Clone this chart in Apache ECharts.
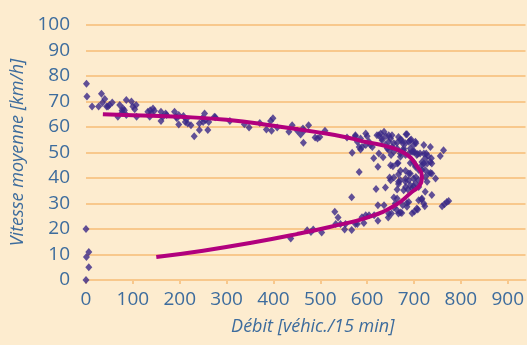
<!DOCTYPE html>
<html>
<head>
<meta charset="utf-8">
<script src="https://cdn.jsdelivr.net/npm/echarts@6/dist/echarts.min.js"></script>
<style>
  html, body { margin: 0; padding: 0; background: #fdeccf; }
  #chart { width: 527px; height: 345px; }
</style>
</head>
<body>
<div id="chart"></div>
<script>
// ticks
const xTicks = [0, 100, 200, 300, 400, 500, 600, 700, 800, 900];

// mesures [débit, vitesse]
const pointsLeft = [
  [0, 0], [6, 5], [1, 9], [6, 11], [0, 20], [1, 77], [2, 72],
  [13, 68], [27, 68], [33, 73], [35, 69.5], [40, 71], [44, 68], [47, 68], [50, 68.6], [56, 69.6],
  [68, 64], [72, 68.6], [77, 66.5], [79, 67.3], [82, 66.6], [77, 65.6], [86, 70.6], [86, 64.7],
  [97, 70], [100, 68], [104, 67], [107, 68.6], [108, 64], [132, 66], [137, 66.6], [143, 67.3],
  [146, 66.4], [139, 65.3], [136, 64], [160, 66], [164, 64], [170, 65.3], [172, 64.7], [160, 62.4],
  [189, 66], [192, 64], [198, 64.7], [194, 63.4], [198, 61], [208, 64.3], [212, 62], [217, 61.4],
  [214, 63], [224, 60.7], [231, 56.4], [242, 61.4], [250, 62], [253, 65.3], [248, 63.4], [242, 58.8],
  [260, 58.8], [262, 62], [255, 62.7], [274, 64]
];
const pointsMid = [
  [276, 63.8], [307, 62.4], [338, 61.1], [348, 59.8], [371, 61.6], [385, 59], [394, 62.4], [399, 63.4],
  [396, 58.5], [408, 59.8], [433, 58.1], [440, 60.7], [451, 58.5], [458, 57.1], [463, 59.4], [465, 58.5],
  [475, 60.7], [464, 53.8], [489, 55.9], [494, 55.5], [499, 56.1], [510, 58.5], [557, 55.9], [575, 56.4],
  [579, 54.2], [568, 49.9], [583, 42.4], [567, 32.5]
];
const pointsLow = [
  [437, 16.3], [472, 19.5], [480, 18.8], [485, 19.8], [503, 18.6], [531, 26.8], [538, 24.5], [533, 22],
  [543, 22], [554, 22], [552, 19.8], [567, 19.6], [575, 22], [579, 22], [589, 24.6], [593, 22.4],
  [597, 25.4], [604, 25.4], [615, 25.4], [623, 23.2], [623, 29.3], [636, 29.3], [645, 24.5], [646, 26.1],
  [652, 26.1], [657, 28.5], [660, 30], [664, 27.4], [667, 26.1], [671, 26.5], [674, 26.3], [676, 29.3],
  [685, 28.7], [685, 30.2], [689, 30.6], [696, 26.2], [701, 26.9], [706, 28], [708, 27.6], [710, 31.3],
  [716, 31.6], [721, 30], [723, 28.9], [760, 28.9], [765, 29.7], [770, 30.6], [774, 31], [738, 33.3],
  [724, 34.6], [717, 32], [619, 35.7], [639, 36.3], [657, 32.4], [664, 32]
];
const pointsRight = [
  [650, 39.1], [657, 40.2], [648, 40.2], [664, 35.5], [667, 37.6], [671, 39.1], [678, 35.2], [682, 38.5],
  [687, 35.5], [692, 37.2], [696, 35.9], [667, 41.5], [671, 42.8], [682, 42.8], [689, 41.8], [699, 39.8],
  [704, 40.4], [710, 39.1], [699, 36.8], [724, 43.1], [735, 42], [746, 39.8], [655, 44.6], [666, 45.9],
  [692, 45.9], [699, 46.3], [703, 45], [721, 45.7], [724, 47.7], [730, 48.6], [721, 49.6], [756, 48.6],
  [763, 50.9], [623, 44.4], [614, 47.7], [625, 49.6], [634, 48.1], [643, 51.6], [651, 49], [657, 50.3],
  [664, 51.6], [671, 49.6], [678, 50.9], [682, 49], [689, 49.6], [692, 51.6], [699, 50.3], [704, 53.6],
  [708, 49.4], [713, 49.6], [721, 52.9], [735, 52.2], [625, 56.8], [631, 55.5], [636, 58.1], [640, 56.4],
  [646, 54.2], [650, 55.5], [657, 53.6], [664, 53.8], [671, 55.1], [676, 53.6], [683, 57.2], [689, 54.2],
  [694, 55.1], [699, 52.9], [678, 51.6], [597, 57.5], [600, 56.4], [604, 54.2], [589, 52.2], [586, 51.2],
  [597, 52.9], [667, 56.1], [674, 54.8], [682, 53.6], [692, 54.8], [701, 50.3], [706, 49], [717, 45],
  [710, 43.1], [728, 45.7], [738, 45.7], [724, 40.4], [703, 37.8], [689, 39.1], [682, 36.5], [710, 36.5],
  [728, 38.5], [738, 41.8], [735, 46.3], [575, 56.8], [586, 55.5], [583, 52.2], [607, 52.9], [611, 52.2],
  [621, 56.8], [629, 57.5], [646, 56.8], [653, 56.8], [632, 54.8], [639, 52.9], [646, 51], [653, 52.2],
  [650, 45], [664, 45.7], [671, 48.3], [685, 57.2], [703, 54.2], [696, 50.3], [726, 49.6], [737, 47.7],
  [717, 46.3], [692, 41.8], [682, 39.8], [667, 38.5], [703, 44.4], [717, 43.1], [731, 41.8]
];

// courbe débit-vitesse ajustée
const curve = [
  [150, 9], [250, 11.5], [350, 14.5], [450, 18], [520, 20.8], [600, 24.5], [660, 29.3], [696, 34.6],
  [712, 37], [717, 40], [705, 45], [680, 49.7], [640, 52.5], [600, 54], [560, 55.8], [500, 57.8],
  [400, 60.5], [300, 62.8], [200, 64], [100, 64.6], [36, 65]
];

const textColor = "#3d6c9d";
const gridColor = "#f8c88c";
const font = "'Open Sans', sans-serif";

const chart = echarts.init(document.getElementById("chart"));

const option = {
  backgroundColor: "#fdeccf",
  animation: false,
  grid: { left: 86, right: 0, top: 25, bottom: 65 },
  xAxis: {
    type: "value",
    min: 0,
    max: 938,
    name: "Débit [véhic./15 min]",
    nameLocation: "middle",
    nameGap: 38,
    nameTextStyle: { color: textColor, fontSize: 18, fontStyle: "italic", fontFamily: font, padding: [0, 0, 0, 14] },
    axisLine: { show: true, lineStyle: { color: gridColor, width: 2 } },
    axisTick: { show: true, length: 4, customValues: xTicks, lineStyle: { color: gridColor, width: 2 } },
    axisLabel: { customValues: xTicks, margin: 10, color: textColor, fontSize: 19, fontFamily: font },
    splitLine: { show: false }
  },
  yAxis: {
    type: "value",
    min: 0,
    max: 100,
    interval: 10,
    name: "Vitesse moyenne [km/h]",
    nameLocation: "middle",
    nameGap: 58,
    nameTextStyle: { color: textColor, fontSize: 18, fontStyle: "italic", fontFamily: font },
    axisLine: { show: false },
    axisTick: { show: false },
    axisLabel: { margin: 16, color: textColor, fontSize: 19, fontFamily: font },
    splitLine: { lineStyle: { color: gridColor, width: 2 } }
  },
  series: [
    {
      type: "scatter",
      data: pointsLeft.concat(pointsMid, pointsLow, pointsRight),
      symbol: "diamond",
      symbolSize: [7, 8],
      itemStyle: { color: "#3a2887" },
      z: 2
    },
    {
      type: "line",
      data: curve,
      smooth: true,
      showSymbol: false,
      lineStyle: { color: "#b1007e", width: 4 },
      z: 3
    }
  ]
};
chart.setOption(option);
</script>
</body>
</html>
